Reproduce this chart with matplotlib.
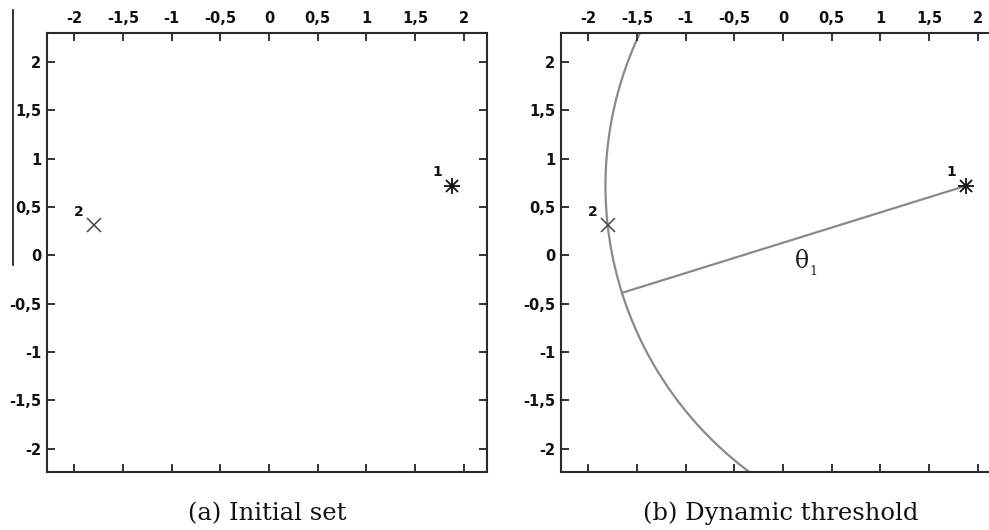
import matplotlib.pyplot as plt
import numpy as np
from matplotlib.lines import Line2D

# points of the set
pts_x = [1.88, -1.80]
pts_y = [0.72, 0.31]
pts_lbl = ['1', '2']

# direction (deg) of the radius drawn from point 1
radius_angle = 197.4

xticks = [-2, -1.5, -1, -0.5, 0, 0.5, 1, 1.5, 2]
yticks = [2, 1.5, 1, 0.5, 0, -0.5, -1, -1.5, -2]
xlim = (-2.28, 2.24)
ylim = (-2.24, 2.30)

captions = ['(a) Initial set', '(b) Dynamic threshold']


def lab(v):
    s = ('%g' % v).replace('.', ',')
    return s


fig = plt.figure(figsize=(9.89, 5.30), dpi=100)
ax_a = fig.add_axes([0.0475, 0.1094, 0.4449, 0.8283])
ax_b = fig.add_axes([0.5672, 0.1094, 0.4449, 0.8283])

for ax in (ax_a, ax_b):
    ax.set_xlim(*xlim)
    ax.set_ylim(*ylim)
    ax.set_xticks(xticks)
    ax.set_yticks(yticks)
    ax.set_xticklabels([lab(v) for v in xticks])
    ax.set_yticklabels([lab(v) for v in yticks])
    ax.tick_params(direction='in', length=6, width=1.4, color='#333333',
                   top=True, right=True, bottom=True, left=True,
                   labeltop=True, labelbottom=False, labelsize=10.5,
                   labelcolor='#111111')
    ax.tick_params(axis='x', pad=5)
    ax.tick_params(axis='y', pad=4)
    for lb in ax.get_xticklabels() + ax.get_yticklabels():
        lb.set_fontweight('bold')
    for sp in ax.spines.values():
        sp.set_linewidth(1.5)
        sp.set_color('#2a2a2a')

    # point 1: asterisk, point 2: cross
    ax.plot(pts_x[0], pts_y[0], marker='+', ms=12, mew=1.3, color='#111111')
    ax.plot(pts_x[0], pts_y[0], marker='x', ms=9, mew=1.3, color='#111111')
    ax.plot(pts_x[1], pts_y[1], marker='x', ms=10, mew=1.1, color='#444444')
    for x, y, t in zip(pts_x, pts_y, pts_lbl):
        ax.text(x - 0.1, y + 0.07, t, fontsize=10, fontweight='bold',
                ha='right', va='bottom', color='#111111')

# threshold circle around point 1 through point 2
r = np.hypot(pts_x[0] - pts_x[1], pts_y[0] - pts_y[1])
t = np.linspace(0, 2 * np.pi, 720)
ax_b.plot(pts_x[0] + r * np.cos(t), pts_y[0] + r * np.sin(t),
          color='#8a8a8a', lw=1.6, zorder=1)
a = np.deg2rad(radius_angle)
ax_b.plot([pts_x[0], pts_x[0] + r * np.cos(a)],
          [pts_y[0], pts_y[0] + r * np.sin(a)],
          color='#8a8a8a', lw=1.6, zorder=1)
ax_b.text(0.2, 0.06, 'θ', fontsize=17, family='DejaVu Serif',
          ha='center', va='top', color='#222222')
ax_b.text(0.31, -0.1, '1', fontsize=9, family='DejaVu Serif',
          ha='center', va='top', color='#222222')

for ax, cap in zip((ax_a, ax_b), captions):
    ax.text(0.5, -0.095, cap, transform=ax.transAxes, ha='center', va='center',
            fontsize=17.5, fontname='DejaVu Serif', color='#111111')

# thin rule at the far left edge
fig.add_artist(Line2D([13 / 989, 13 / 989], [1 - 10 / 530, 1 - 265 / 530],
                      transform=fig.transFigure, color='#111111', lw=1.2))

fig.savefig('out.png', dpi=100)
